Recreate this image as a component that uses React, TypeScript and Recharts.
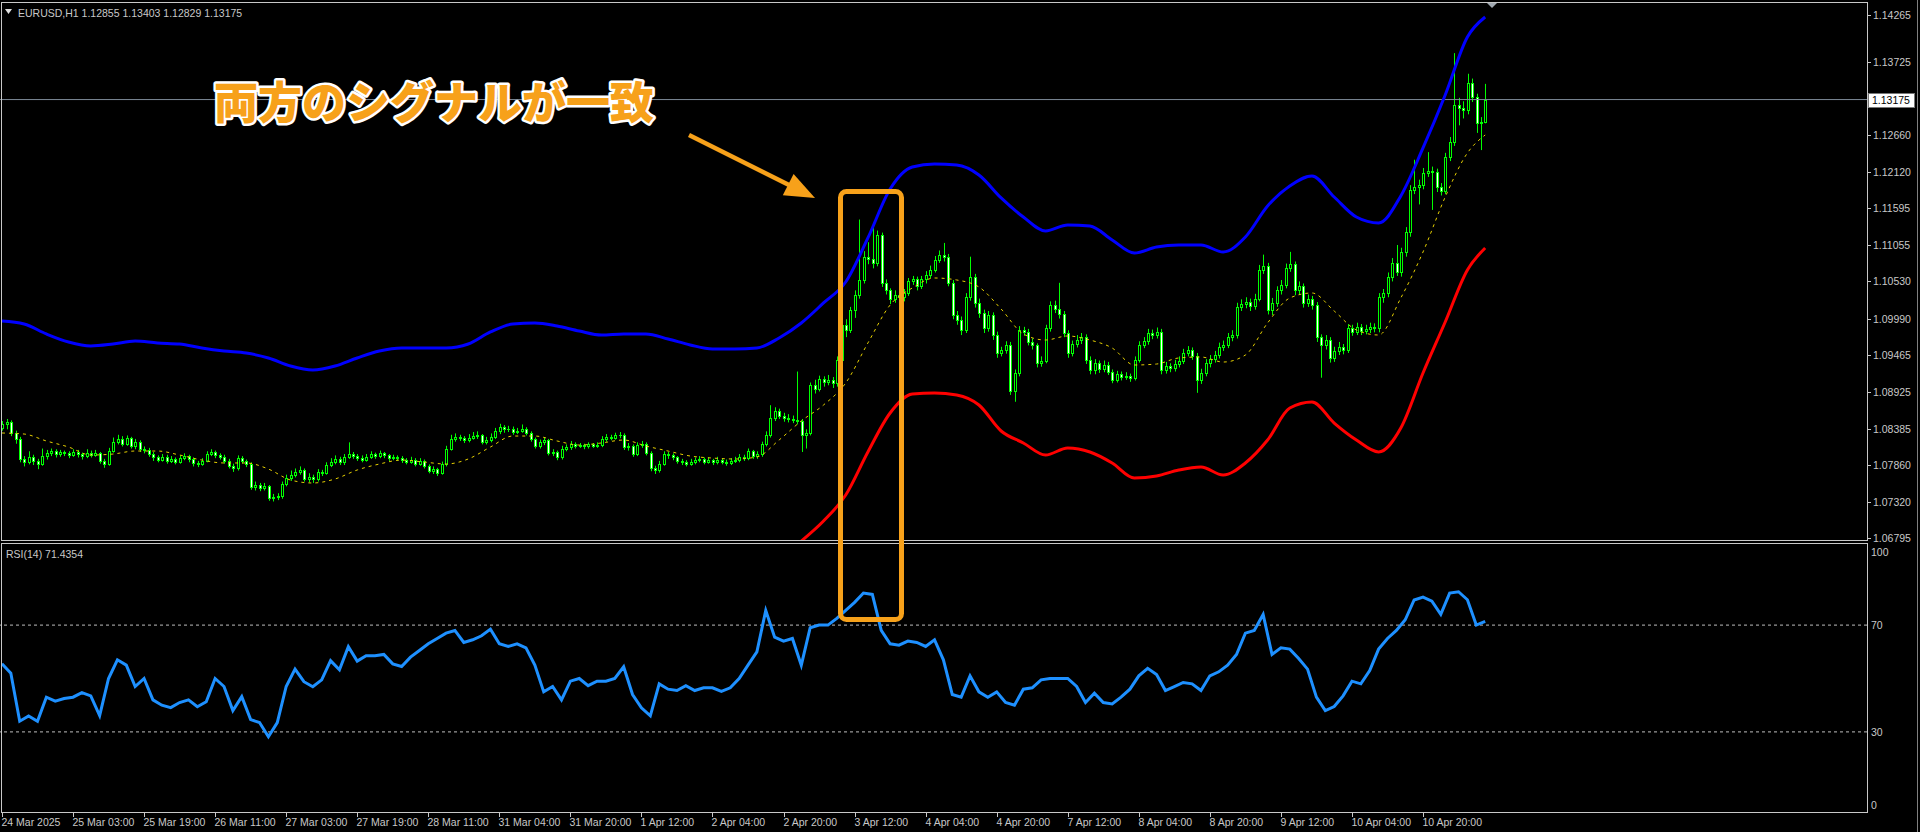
import { ComposedChart, Bar, Line, XAxis, YAxis, ReferenceLine } from 'recharts'

// bar index -> time label (one tick every 16 H1 bars)
const tickBars = [0, 16, 32, 48, 64, 80, 96, 112, 128, 144, 160, 176, 192, 208, 224, 240, 256, 272, 288, 304, 320]
const timeLabels = [
  '24 Mar 2025', '25 Mar 03:00', '25 Mar 19:00', '26 Mar 11:00', '27 Mar 03:00', '27 Mar 19:00', '28 Mar 11:00',
  '31 Mar 04:00', '31 Mar 20:00', '1 Apr 12:00', '2 Apr 04:00', '2 Apr 20:00', '3 Apr 12:00', '4 Apr 04:00',
  '4 Apr 20:00', '7 Apr 12:00', '8 Apr 04:00', '8 Apr 20:00', '9 Apr 12:00', '10 Apr 04:00', '10 Apr 20:00',
]
const priceTicks = [1.14265, 1.13725, 1.1266, 1.1212, 1.11595, 1.11055, 1.1053, 1.0999, 1.09465, 1.08925, 1.08385, 1.0786, 1.0732, 1.06795]
const rsiTicks = [0, 30, 70, 100]
const lastPrice = 1.13175

const opens = [
  1.0840, 1.0845, 1.0848, 1.0832, 1.0824, 1.0795, 1.0790, 1.0797, 1.0792, 1.0788,
  1.0799, 1.0803, 1.0806, 1.0802, 1.0805, 1.0803, 1.0801, 1.0805, 1.0802, 1.0799,
  1.0804, 1.0801, 1.0803, 1.0792, 1.0788, 1.0807, 1.0820, 1.0824, 1.0817, 1.0825,
  1.0814, 1.0820, 1.0810, 1.0808, 1.0802, 1.0797, 1.0794, 1.0798, 1.0792, 1.0795,
  1.0791, 1.0796, 1.0799, 1.0795, 1.0789, 1.0788, 1.0792, 1.0802, 1.0805, 1.0800,
  1.0798, 1.0792, 1.0785, 1.0781, 1.0796, 1.0792, 1.0788, 1.0754, 1.0757, 1.0753,
  1.0755, 1.0738, 1.0739, 1.0741, 1.0758, 1.0767, 1.0772, 1.0776, 1.0779, 1.0766,
  1.0769, 1.0765, 1.0776, 1.0775, 1.0786, 1.0791, 1.0795, 1.0790, 1.0798, 1.0802,
  1.0799, 1.0796, 1.0794, 1.0798, 1.0802, 1.0799, 1.0803, 1.0800, 1.0796, 1.0798,
  1.0796, 1.0793, 1.0791, 1.0794, 1.0788, 1.0792, 1.0785, 1.0778, 1.0780, 1.0775,
  1.0787, 1.0810, 1.0824, 1.0827, 1.0825, 1.0822, 1.0826, 1.0828, 1.0829, 1.0820,
  1.0823, 1.0827, 1.0835, 1.0841, 1.0838, 1.0839, 1.0834, 1.0836, 1.0838, 1.0833,
  1.0824, 1.0814, 1.0819, 1.0822, 1.0804, 1.0805, 1.0798, 1.0810, 1.0812, 1.0817,
  1.0814, 1.0815, 1.0813, 1.0816, 1.0814, 1.0815, 1.0824, 1.0827, 1.0826, 1.0829,
  1.0830, 1.0812, 1.0814, 1.0802, 1.0815, 1.0817, 1.0804, 1.0782, 1.0779, 1.0788,
  1.0802, 1.0800, 1.0797, 1.0792, 1.0790, 1.0788, 1.0791, 1.0793, 1.0795, 1.0791,
  1.0793, 1.0790, 1.0794, 1.0791, 1.0789, 1.0792, 1.0794, 1.0798, 1.0796, 1.0806,
  1.0799, 1.0802, 1.0816, 1.0829, 1.0855, 1.0865, 1.0858, 1.0854, 1.0853, 1.0852,
  1.0850, 1.0829, 1.0833, 1.0902, 1.0897, 1.0911, 1.0907, 1.0909, 1.0905, 1.0939,
  1.0990, 1.0983, 1.1011, 1.1033, 1.1055, 1.1089, 1.1085, 1.1080, 1.1120, 1.1051,
  1.1040, 1.1027, 1.1034, 1.1030, 1.1036, 1.1053, 1.1056, 1.1046, 1.1056, 1.1062,
  1.1070, 1.1084, 1.1092, 1.1088, 1.1051, 1.1004, 1.0997, 1.0982, 1.1030, 1.1059,
  1.1022, 1.1007, 1.0985, 1.1004, 1.0975, 1.0949, 1.0953, 1.0961, 1.0893, 1.0920,
  1.0982, 1.0980, 1.0965, 1.0960, 1.0934, 1.0938, 1.0985, 1.1019, 1.1013, 1.1005,
  1.0978, 1.0949, 1.0962, 1.0968, 1.0972, 1.0939, 1.0924, 1.0934, 1.0926, 1.0932,
  1.0922, 1.0910, 1.0918, 1.0914, 1.0916, 1.0913, 1.0939, 1.0961, 1.0966, 1.0978,
  1.0975, 1.0980, 1.0924, 1.0930, 1.0927, 1.0933, 1.0938, 1.0949, 1.0953, 1.0945,
  1.0910, 1.0920, 1.0934, 1.0940, 1.0946, 1.0958, 1.0961, 1.0972, 1.0975, 1.1016,
  1.1020, 1.1023, 1.1017, 1.1028, 1.1070, 1.1075, 1.1011, 1.1022, 1.1040, 1.1048,
  1.1073, 1.1078, 1.1040, 1.1046, 1.1022, 1.1027, 1.1019, 1.0972, 1.0961, 1.0968,
  1.0942, 1.0952, 1.0958, 1.0953, 1.0985, 1.0980, 1.0987, 1.0981, 1.0984, 1.0987,
  1.0985, 1.1030, 1.1036, 1.1059, 1.1080, 1.1067, 1.1096, 1.1125, 1.1186, 1.1190,
  1.1193, 1.1211, 1.1214, 1.1212, 1.1190, 1.1185, 1.1234, 1.1256, 1.1310, 1.1305,
  1.1302, 1.1342, 1.1321, 1.1283, 1.12855,
]
const highs = [
  1.0850, 1.0853, 1.0851, 1.0836, 1.0827, 1.0799, 1.0806, 1.0801, 1.0795, 1.0810,
  1.0808, 1.0810, 1.0809, 1.0808, 1.0807, 1.0806, 1.0809, 1.0808, 1.0804, 1.0809,
  1.0807, 1.0808, 1.0805, 1.0795, 1.0811, 1.0826, 1.0830, 1.0828, 1.0829, 1.0827,
  1.0824, 1.0822, 1.0813, 1.0811, 1.0805, 1.0800, 1.0802, 1.0801, 1.0799, 1.0797,
  1.0800, 1.0803, 1.0801, 1.0797, 1.0792, 1.0796, 1.0806, 1.0809, 1.0807, 1.0803,
  1.0801, 1.0795, 1.0788, 1.0800, 1.0799, 1.0794, 1.0790, 1.0762, 1.0760, 1.0760,
  1.0757, 1.0744, 1.0745, 1.0762, 1.0772, 1.0778, 1.0781, 1.0784, 1.0781, 1.0774,
  1.0772, 1.0780, 1.0779, 1.0790, 1.0796, 1.0800, 1.0798, 1.0802, 1.0819, 1.0805,
  1.0802, 1.0800, 1.0802, 1.0806, 1.0804, 1.0807, 1.0805, 1.0802, 1.0801, 1.0800,
  1.0799, 1.0796, 1.0798, 1.0796, 1.0796, 1.0794, 1.0787, 1.0784, 1.0782, 1.0791,
  1.0814, 1.0830, 1.0832, 1.0830, 1.0828, 1.0831, 1.0834, 1.0835, 1.0831, 1.0827,
  1.0832, 1.0840, 1.0846, 1.0844, 1.0843, 1.0842, 1.0840, 1.0845, 1.0841, 1.0835,
  1.0826, 1.0823, 1.0826, 1.0824, 1.0809, 1.0807, 1.0814, 1.0816, 1.0821, 1.0819,
  1.0818, 1.0817, 1.0819, 1.0818, 1.0819, 1.0828, 1.0831, 1.0830, 1.0833, 1.0834,
  1.0832, 1.0818, 1.0816, 1.0819, 1.0821, 1.0819, 1.0806, 1.0785, 1.0792, 1.0806,
  1.0805, 1.0803, 1.0799, 1.0795, 1.0793, 1.0795, 1.0797, 1.0799, 1.0797, 1.0797,
  1.0795, 1.0798, 1.0796, 1.0794, 1.0796, 1.0798, 1.0802, 1.0801, 1.0810, 1.0808,
  1.0806, 1.0820, 1.0835, 1.0873, 1.0870, 1.0868, 1.0862, 1.0860, 1.0858, 1.0922,
  1.0853, 1.0838, 1.0906, 1.0910, 1.0916, 1.0915, 1.0917, 1.0914, 1.0944, 1.0995,
  1.0998, 1.1016, 1.1040, 1.1143, 1.1097, 1.1110, 1.1133, 1.1127, 1.1124, 1.1056,
  1.1043, 1.1040, 1.1041, 1.1042, 1.1058, 1.1061, 1.1060, 1.1061, 1.1068, 1.1076,
  1.1090, 1.1098, 1.1109, 1.1093, 1.1055, 1.1010, 1.1002, 1.1036, 1.1089, 1.1064,
  1.1028, 1.1012, 1.1010, 1.1008, 1.0980, 1.0958, 1.0966, 1.0965, 1.0925, 1.0988,
  1.0987, 1.0984, 1.0970, 1.0963, 1.0944, 1.0990, 1.1024, 1.1025, 1.1051, 1.1010,
  1.0982, 1.0967, 1.0975, 1.0978, 1.0976, 1.0944, 1.0940, 1.0938, 1.0938, 1.0936,
  1.0925, 1.0923, 1.0922, 1.0921, 1.0919, 1.0944, 1.0966, 1.0972, 1.0984, 1.0983,
  1.0986, 1.0984, 1.0936, 1.0934, 1.0939, 1.0944, 1.0955, 1.0959, 1.0957, 1.0949,
  1.0926, 1.0940, 1.0946, 1.0952, 1.0964, 1.0967, 1.0978, 1.0982, 1.1022, 1.1027,
  1.1030, 1.1028, 1.1035, 1.1077, 1.1092, 1.1080, 1.1029, 1.1046, 1.1055, 1.1079,
  1.1096, 1.1082, 1.1053, 1.1050, 1.1034, 1.1032, 1.1023, 1.0976, 1.0975, 1.0972,
  1.0958, 1.0965, 1.0962, 1.0991, 1.0990, 1.0993, 1.0991, 1.0990, 1.0993, 1.0992,
  1.1036, 1.1042, 1.1066, 1.1087, 1.1106, 1.1102, 1.1132, 1.1193, 1.1230, 1.1201,
  1.1218, 1.1241, 1.1220, 1.1217, 1.1196, 1.1240, 1.1263, 1.1385, 1.1320, 1.1315,
  1.1355, 1.1348, 1.1326, 1.1292, 1.13403,
]
const lows = [
  1.0836, 1.0838, 1.0828, 1.0817, 1.0790, 1.0784, 1.0787, 1.0786, 1.0780, 1.0785,
  1.0794, 1.0799, 1.0797, 1.0798, 1.0799, 1.0796, 1.0798, 1.0797, 1.0794, 1.0796,
  1.0797, 1.0798, 1.0788, 1.0782, 1.0785, 1.0804, 1.0816, 1.0813, 1.0814, 1.0810,
  1.0809, 1.0805, 1.0803, 1.0798, 1.0792, 1.0790, 1.0791, 1.0788, 1.0789, 1.0787,
  1.0788, 1.0793, 1.0790, 1.0784, 1.0783, 1.0785, 1.0790, 1.0799, 1.0796, 1.0794,
  1.0788, 1.0781, 1.0776, 1.0778, 1.0788, 1.0783, 1.0750, 1.0749, 1.0748, 1.0749,
  1.0734, 1.0733, 1.0735, 1.0737, 1.0755, 1.0763, 1.0768, 1.0772, 1.0762, 1.0761,
  1.0760, 1.0762, 1.0770, 1.0772, 1.0783, 1.0787, 1.0786, 1.0786, 1.0795, 1.0795,
  1.0792, 1.0790, 1.0791, 1.0795, 1.0795, 1.0796, 1.0796, 1.0792, 1.0793, 1.0792,
  1.0789, 1.0787, 1.0788, 1.0784, 1.0785, 1.0781, 1.0774, 1.0773, 1.0770, 1.0772,
  1.0784, 1.0807, 1.0820, 1.0821, 1.0818, 1.0819, 1.0823, 1.0824, 1.0816, 1.0816,
  1.0819, 1.0824, 1.0831, 1.0833, 1.0834, 1.0830, 1.0831, 1.0833, 1.0829, 1.0820,
  1.0810, 1.0810, 1.0815, 1.0800, 1.0799, 1.0793, 1.0794, 1.0806, 1.0808, 1.0810,
  1.0811, 1.0809, 1.0810, 1.0811, 1.0811, 1.0812, 1.0820, 1.0822, 1.0823, 1.0825,
  1.0808, 1.0807, 1.0798, 1.0799, 1.0811, 1.0800, 1.0777, 1.0773, 1.0775, 1.0785,
  1.0795, 1.0793, 1.0788, 1.0786, 1.0784, 1.0785, 1.0787, 1.0790, 1.0787, 1.0788,
  1.0786, 1.0787, 1.0787, 1.0785, 1.0786, 1.0789, 1.0790, 1.0792, 1.0793, 1.0795,
  1.0795, 1.0798, 1.0813, 1.0826, 1.0850, 1.0853, 1.0849, 1.0848, 1.0847, 1.0845,
  1.0805, 1.0810, 1.0829, 1.0890, 1.0893, 1.0900, 1.0902, 1.0898, 1.0900, 1.0930,
  1.0972, 1.0978, 1.1000, 1.1028, 1.1050, 1.1078, 1.1072, 1.1075, 1.1045, 1.1034,
  1.1020, 1.1022, 1.1019, 1.1024, 1.1032, 1.1048, 1.1040, 1.1042, 1.1050, 1.1058,
  1.1066, 1.1080, 1.1082, 1.1046, 1.0998, 1.0990, 1.0975, 1.0978, 1.1025, 1.1015,
  1.1000, 1.0978, 1.0980, 1.0968, 1.0942, 1.0944, 1.0948, 1.0888, 1.0878, 1.0915,
  1.0974, 1.0960, 1.0954, 1.0928, 1.0929, 1.0934, 1.0980, 1.1007, 1.0999, 1.0972,
  1.0942, 1.0944, 1.0957, 1.0962, 1.0933, 1.0918, 1.0918, 1.0920, 1.0921, 1.0917,
  1.0905, 1.0906, 1.0909, 1.0910, 1.0907, 1.0909, 1.0935, 1.0956, 1.0961, 1.0969,
  1.0970, 1.0918, 1.0919, 1.0921, 1.0922, 1.0928, 1.0933, 1.0944, 1.0939, 1.0891,
  1.0904, 1.0915, 1.0928, 1.0935, 1.0941, 1.0952, 1.0956, 1.0966, 1.0970, 1.1010,
  1.1014, 1.1010, 1.1012, 1.1024, 1.1064, 1.1005, 1.1004, 1.1016, 1.1034, 1.1043,
  1.1067, 1.1033, 1.1034, 1.1015, 1.1016, 1.1012, 1.0965, 1.0913, 1.0954, 1.0935,
  1.0936, 1.0946, 1.0947, 1.0949, 1.0974, 1.0975, 1.0975, 1.0976, 1.0978, 1.0979,
  1.0979, 1.1022, 1.1030, 1.1053, 1.1061, 1.1060, 1.1089, 1.1118, 1.1180, 1.1165,
  1.1187, 1.1205, 1.1157, 1.1183, 1.1178, 1.1180, 1.1228, 1.1250, 1.1280, 1.1290,
  1.1296, 1.1314, 1.1269, 1.1244, 1.12829,
]
const closes = [
  1.0845, 1.0848, 1.0832, 1.0824, 1.0795, 1.0790, 1.0797, 1.0792, 1.0788, 1.0799,
  1.0803, 1.0806, 1.0802, 1.0805, 1.0803, 1.0801, 1.0805, 1.0802, 1.0799, 1.0804,
  1.0801, 1.0803, 1.0792, 1.0788, 1.0807, 1.0820, 1.0824, 1.0817, 1.0825, 1.0814,
  1.0820, 1.0810, 1.0808, 1.0802, 1.0797, 1.0794, 1.0798, 1.0792, 1.0795, 1.0791,
  1.0796, 1.0799, 1.0795, 1.0789, 1.0788, 1.0792, 1.0802, 1.0805, 1.0800, 1.0798,
  1.0792, 1.0785, 1.0781, 1.0796, 1.0792, 1.0788, 1.0754, 1.0757, 1.0753, 1.0755,
  1.0738, 1.0739, 1.0741, 1.0758, 1.0767, 1.0772, 1.0776, 1.0779, 1.0766, 1.0769,
  1.0765, 1.0776, 1.0775, 1.0786, 1.0791, 1.0795, 1.0790, 1.0798, 1.0802, 1.0799,
  1.0796, 1.0794, 1.0798, 1.0802, 1.0799, 1.0803, 1.0800, 1.0796, 1.0798, 1.0796,
  1.0793, 1.0791, 1.0794, 1.0788, 1.0792, 1.0785, 1.0778, 1.0780, 1.0775, 1.0787,
  1.0810, 1.0824, 1.0827, 1.0825, 1.0822, 1.0826, 1.0828, 1.0829, 1.0820, 1.0823,
  1.0827, 1.0835, 1.0841, 1.0838, 1.0839, 1.0834, 1.0836, 1.0838, 1.0833, 1.0824,
  1.0814, 1.0819, 1.0822, 1.0804, 1.0805, 1.0798, 1.0810, 1.0812, 1.0817, 1.0814,
  1.0815, 1.0813, 1.0816, 1.0814, 1.0815, 1.0824, 1.0827, 1.0826, 1.0829, 1.0830,
  1.0812, 1.0814, 1.0802, 1.0815, 1.0817, 1.0804, 1.0782, 1.0779, 1.0788, 1.0802,
  1.0800, 1.0797, 1.0792, 1.0790, 1.0788, 1.0791, 1.0793, 1.0795, 1.0791, 1.0793,
  1.0790, 1.0794, 1.0791, 1.0789, 1.0792, 1.0794, 1.0798, 1.0796, 1.0806, 1.0799,
  1.0802, 1.0816, 1.0829, 1.0855, 1.0865, 1.0858, 1.0854, 1.0853, 1.0852, 1.0850,
  1.0829, 1.0833, 1.0902, 1.0897, 1.0911, 1.0907, 1.0909, 1.0905, 1.0939, 1.0990,
  1.0983, 1.1011, 1.1033, 1.1055, 1.1089, 1.1085, 1.1080, 1.1120, 1.1051, 1.1040,
  1.1027, 1.1034, 1.1030, 1.1036, 1.1053, 1.1056, 1.1046, 1.1056, 1.1062, 1.1070,
  1.1084, 1.1092, 1.1088, 1.1051, 1.1004, 1.0997, 1.0982, 1.1030, 1.1059, 1.1022,
  1.1007, 1.0985, 1.1004, 1.0975, 1.0949, 1.0953, 1.0961, 1.0893, 1.0920, 1.0982,
  1.0980, 1.0965, 1.0960, 1.0934, 1.0938, 1.0985, 1.1019, 1.1013, 1.1005, 1.0978,
  1.0949, 1.0962, 1.0968, 1.0972, 1.0939, 1.0924, 1.0934, 1.0926, 1.0932, 1.0922,
  1.0910, 1.0918, 1.0914, 1.0916, 1.0913, 1.0939, 1.0961, 1.0966, 1.0978, 1.0975,
  1.0980, 1.0924, 1.0930, 1.0927, 1.0933, 1.0938, 1.0949, 1.0953, 1.0945, 1.0910,
  1.0920, 1.0934, 1.0940, 1.0946, 1.0958, 1.0961, 1.0972, 1.0975, 1.1016, 1.1020,
  1.1023, 1.1017, 1.1028, 1.1070, 1.1075, 1.1011, 1.1022, 1.1040, 1.1048, 1.1073,
  1.1078, 1.1040, 1.1046, 1.1022, 1.1027, 1.1019, 1.0972, 1.0961, 1.0968, 1.0942,
  1.0952, 1.0958, 1.0953, 1.0985, 1.0980, 1.0987, 1.0981, 1.0984, 1.0987, 1.0985,
  1.1030, 1.1036, 1.1059, 1.1080, 1.1067, 1.1096, 1.1125, 1.1186, 1.1190, 1.1193,
  1.1211, 1.1214, 1.1212, 1.1190, 1.1185, 1.1234, 1.1256, 1.1310, 1.1305, 1.1302,
  1.1342, 1.1321, 1.1283, 1.12855, 1.13175,
]

// bands and MA, read every 5 bars
const bandBars = [
  0, 5, 10, 15, 20, 25, 30, 35, 40, 45, 50, 55, 60, 65, 70, 75, 80, 85, 90, 95,
  100, 105, 110, 115, 120, 125, 130, 135, 140, 145, 150, 155, 160, 165, 170, 175, 180, 185, 190, 195,
  200, 205, 210, 215, 220, 225, 230, 235, 240, 245, 250, 255, 260, 265, 270, 275, 280, 285, 290, 295,
  300, 305, 310, 315, 320, 325, 330, 334,
]
const upperBand = [
  1.09955, 1.09911, 1.09766, 1.09649, 1.09591, 1.0962, 1.09664, 1.09635, 1.0962, 1.09562,
  1.09518, 1.09489, 1.09417, 1.093, 1.09242, 1.093, 1.09417, 1.09518, 1.09562, 1.09562,
  1.09562, 1.0962, 1.09795, 1.09911, 1.09926, 1.09882, 1.09809, 1.09751, 1.09766, 1.09766,
  1.09693, 1.09606, 1.09548, 1.09548, 1.09562, 1.09708, 1.09926, 1.10217, 1.10522, 1.11162,
  1.11874, 1.12194, 1.12238, 1.12223, 1.12078, 1.11744, 1.11467, 1.11264, 1.11351, 1.11336,
  1.11133, 1.10944, 1.11031, 1.1106, 1.1106, 1.10958, 1.11176, 1.11627, 1.11918, 1.12063,
  1.11758, 1.11467, 1.1138, 1.11773, 1.12471, 1.13241, 1.14085, 1.14376,
]
const lowerBand = [
  null, null, null, null, null, null, null, null, null, null,
  null, null, null, null, null, null, null, null, null, null,
  null, null, null, null, null, null, null, null, null, null,
  null, null, null, null, null, null, 1.06755, 1.07046, 1.07424, 1.0805,
  1.08617, 1.08893, 1.08908, 1.08879, 1.08733, 1.08355, 1.08181, 1.08006, 1.08108, 1.0805,
  1.0789, 1.07672, 1.07701, 1.07788, 1.07832, 1.07715, 1.0789, 1.08224, 1.08689, 1.08777,
  1.08471, 1.08224, 1.0805, 1.08399, 1.09198, 1.0994, 1.10697, 1.11016,
]
const maLine = [
  1.08326, 1.08311, 1.0821, 1.08122, 1.08006, 1.0802, 1.08064, 1.08064, 1.08006, 1.07933,
  1.0789, 1.0789, 1.07802, 1.07642, 1.07599, 1.07657, 1.07788, 1.07875, 1.07933, 1.07904,
  1.07875, 1.07948, 1.08122, 1.08282, 1.08282, 1.0821, 1.08151, 1.08181, 1.08224, 1.08137,
  1.08064, 1.07991, 1.07962, 1.07948, 1.07977, 1.08224, 1.08501, 1.08733, 1.09053, 1.09635,
  1.10187, 1.10435, 1.1058, 1.10551, 1.10449, 1.10129, 1.09766, 1.09678, 1.09737, 1.09678,
  1.09562, 1.09315, 1.09329, 1.09417, 1.09431, 1.09358, 1.0946, 1.09926, 1.10289, 1.10362,
  1.101, 1.09824, 1.09751, 1.10289, 1.10958, 1.11758, 1.12398, 1.1266,
]

// RSI(14), read every 2 bars
const rsiValues = [
  55.5, 52, 34, 36, 34, 43, 41.5, 42.5, 43, 44.7,
  43.5, 36.1, 50, 57, 55, 47, 50, 42, 40, 39.1,
  41, 42, 39.4, 41.3, 50, 47, 38, 43.2, 34.6, 33.5,
  28.2, 33.5, 47, 53.5, 48.8, 46.9, 49.5, 56.7, 53.3, 61.9,
  56.5, 58.5, 58.5, 59, 55.5, 54.5, 58, 60.5, 63, 65,
  67, 68, 63.5, 64.5, 66, 68.5, 63, 62, 63, 61.5,
  55, 45, 47, 42, 49, 50, 47.3, 49, 49, 50,
  54.4, 44, 39, 36, 48, 46, 45.5, 47.3, 45.5, 46.5,
  46.5, 45.2, 46.5, 50, 55, 60, 75.5, 65.5, 64, 65,
  55, 69, 70, 70, 72.5, 75.5, 78.5, 82, 81.5, 68,
  63, 62.5, 64, 63.5, 62, 64.5, 57, 44, 43, 51,
  45, 43, 45, 41, 40, 46, 46.5, 49.5, 50, 50,
  50, 47, 41, 44.5, 41, 40.5, 43, 46, 51, 53.8,
  51.5, 45.5, 47, 48.5, 48, 45.5, 51, 52.5, 55, 59,
  67, 68, 74, 59, 61.5, 61, 57.5, 53.5, 43, 38,
  39.5, 43.5, 49, 48, 53, 61, 65, 68, 72, 79.4,
  80.5, 79, 74, 82, 82.5, 79.5, 70, 71.4,
]

const candles = closes.map((c, i) => ({ i, o: opens[i], h: highs[i], l: lows[i], c, range: [lows[i], highs[i]] }))
const upperData = bandBars.map((i, k) => ({ i, v: upperBand[k] }))
const lowerData = bandBars.map((i, k) => ({ i, v: lowerBand[k] })).filter((d) => d.v != null)
const maData = bandBars.map((i, k) => ({ i, v: maLine[k] }))
const rsiData = rsiValues.map((v, k) => ({ i: k * 2, rsi: v }))

const X_DOMAIN: [number, number] = [-0.44, 419.98]
const FG = '#c8c8c8'
const FONT = '"Liberation Sans", Arial, sans-serif'
const ORANGE = '#f7a11a'
const PLOT_R = 1867

function Candle(props: any) {
  const { x, y, width, height, payload } = props
  if (!payload || y == null) return null
  const { o, h, l, c } = payload
  const cx = Math.round(x + width / 2)
  const span = h - l
  const toY = (p: number) => (span > 0 ? y + ((h - p) / span) * height : y)
  const top = Math.round(toY(Math.max(o, c)))
  const bot = Math.round(toY(Math.min(o, c)))
  return (
    <g>
      <line x1={cx + 0.5} x2={cx + 0.5} y1={y} y2={y + height} stroke="#00ff00" strokeWidth={1} />
      {bot - top >= 1 ? (
        <rect x={cx - 0.5} y={top + 0.5} width={2} height={bot - top} fill={c >= o ? '#000' : '#fff'} stroke="#00ff00" strokeWidth={1} />
      ) : (
        <line x1={cx - 1} x2={cx + 2} y1={top + 0.5} y2={top + 0.5} stroke="#00ff00" strokeWidth={1} />
      )}
    </g>
  )
}

function PriceTick({ y, payload }: any) {
  const v = payload.value
  const ty = v === 1.14265 ? y - 9.5 : y // MT4 pushes the top label up
  const ly = Math.round(ty) + 0.5
  return (
    <g>
      <line x1={PLOT_R} x2={PLOT_R + 4} y1={ly} y2={ly} stroke={FG} />
      <text x={PLOT_R + 6} y={ty + 4} fill={FG} fontSize={10.5} fontFamily={FONT}>{v.toFixed(5)}</text>
    </g>
  )
}

function RsiTick({ y, payload }: any) {
  const v = payload.value
  const dy = v === 100 ? 11 : v === 0 ? -3 : 4
  return (
    <text x={PLOT_R + 4} y={y + dy} fill={FG} fontSize={10.5} fontFamily={FONT}>{v}</text>
  )
}

function TimeTick({ x, payload }: any) {
  const label = timeLabels[tickBars.indexOf(payload.value)]
  const px = Math.round(x) + 0.5
  return (
    <g>
      <line x1={px} x2={px} y1={272} y2={276} stroke={FG} />
      <text x={px - 1} y={285} fill={FG} fontSize={10.5} fontFamily={FONT}>{label}</text>
    </g>
  )
}

function PriceTag(props: any) {
  const vb = props.viewBox || {}
  const yy = Math.round(vb.y)
  return (
    <g>
      <rect x={PLOT_R + 1.5} y={yy - 6.5} width={46} height={14} fill="#fff" stroke="#777" />
      <text x={PLOT_R + 5} y={yy + 4} fill="#000" fontSize={10.5} fontFamily={FONT}>{lastPrice.toFixed(5)}</text>
    </g>
  )
}

export default function App() {
  return (
    <div style={{ position: 'absolute', left: 0, top: 0, width: 1920, height: 832, background: '#000', overflow: 'hidden' }}>
      <div style={{ position: 'absolute', left: 0, top: 0 }}>
        <ComposedChart width={1920} height={546} data={candles} margin={{ top: 3, right: 0, bottom: 6, left: 0 }}>
          <XAxis dataKey="i" type="number" domain={X_DOMAIN} allowDataOverflow hide />
          <YAxis
            orientation="right"
            width={53}
            type="number"
            domain={[1.0677, 1.14579]}
            allowDataOverflow
            ticks={priceTicks}
            interval={0}
            tick={<PriceTick />}
            tickLine={false}
            axisLine={false}
          />
          <ReferenceLine y={lastPrice} stroke="#7b8896" strokeWidth={1} label={<PriceTag />} />
          <Bar dataKey="range" barSize={3} shape={(p: any) => <Candle {...p} />} isAnimationActive={false} />
          <Line data={maData} dataKey="v" type="monotone" stroke="#e6d000" strokeWidth={1} strokeDasharray="3 4" dot={false} isAnimationActive={false} />
          <Line data={upperData} dataKey="v" type="monotone" stroke="#0000ff" strokeWidth={3} dot={false} isAnimationActive={false} />
          <Line data={lowerData} dataKey="v" type="monotone" stroke="#ff0000" strokeWidth={3} dot={false} isAnimationActive={false} />
        </ComposedChart>
      </div>
      <div style={{ position: 'absolute', left: 0, top: 541 }}>
        <ComposedChart width={1920} height={291} data={rsiData} margin={{ top: 4, right: 0, bottom: 0, left: 0 }}>
          <XAxis
            dataKey="i"
            type="number"
            domain={X_DOMAIN}
            allowDataOverflow
            ticks={tickBars}
            interval={0}
            height={20}
            tick={<TimeTick />}
            tickLine={false}
            axisLine={false}
          />
          <YAxis
            orientation="right"
            width={53}
            type="number"
            domain={[0, 100]}
            ticks={rsiTicks}
            interval={0}
            tick={<RsiTick />}
            tickLine={false}
            axisLine={false}
          />
          <ReferenceLine y={70} stroke="#bdbdbd" strokeDasharray="3 3" />
          <ReferenceLine y={30} stroke="#bdbdbd" strokeDasharray="3 3" />
          <Line dataKey="rsi" type="linear" stroke="#1e90ff" strokeWidth={3} dot={false} isAnimationActive={false} />
        </ComposedChart>
      </div>
      <svg width={1920} height={832} style={{ position: 'absolute', left: 0, top: 0, pointerEvents: 'none' }}>
        {/* pane frames */}
        <rect x={1.5} y={2.5} width={1866} height={538} fill="none" stroke={FG} />
        <rect x={1.5} y={543.5} width={1866} height={269} fill="none" stroke={FG} />
        <line x1={1917.5} x2={1917.5} y1={0} y2={832} stroke="#808080" />
        {/* headers */}
        <polygon points="5,9 12,9 8.5,14" fill="#e0e0e0" />
        <text x={18} y={17} fill={FG} fontSize={10.5} fontFamily={FONT}>EURUSD,H1  1.12855 1.13403 1.12829 1.13175</text>
        <text x={6} y={558} fill={FG} fontSize={10.5} fontFamily={FONT}>RSI(14) 71.4354</text>
        <polygon points="1487,3 1497,3 1492,8" fill="#a0a8b0" />
        {/* annotation */}
        <text
          x={214}
          y={119}
          fill={ORANGE}
          stroke="#fff"
          strokeWidth={5}
          strokeLinejoin="round"
          paintOrder="stroke"
          fontSize={44}
          fontWeight={900}
          fontFamily='"Noto Sans CJK JP", sans-serif'
        >
          両方のシグナルが一致
        </text>
        <line x1={689} y1={135} x2={790} y2={185.5} stroke={ORANGE} strokeWidth={4.5} />
        <polygon points="815,198 782.8,195.3 793.6,173.9" fill={ORANGE} />
        <rect x={840.5} y={191.5} width={61} height={428} rx={6} fill="none" stroke={ORANGE} strokeWidth={5} />
      </svg>
    </div>
  )
}
